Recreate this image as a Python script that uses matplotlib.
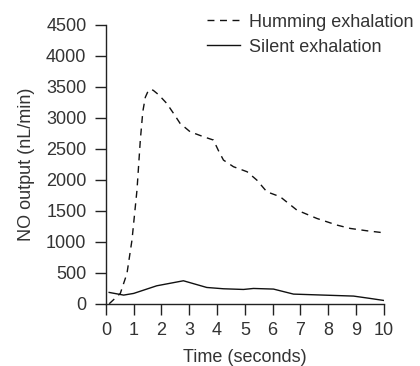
import matplotlib
matplotlib.use("Agg")
import matplotlib.pyplot as plt

plt.rcParams['font.family'] = ['Liberation Sans', 'DejaVu Sans']

hum_t = [0.12, 0.52, 0.76, 0.94, 1.12, 1.24, 1.33, 1.42, 1.52, 1.62, 1.71, 1.9, 2.19, 2.45, 2.67,
         3.03, 3.51, 3.87, 4.05, 4.23, 4.59, 5.08, 5.43, 5.79, 6.27, 6.87, 7.59, 8.31, 8.79,
         9.39, 9.99]
hum_v = [0, 167, 489, 1027, 1833, 2640, 3100, 3330, 3430, 3460, 3440, 3370, 3231, 3060, 2909,
         2774, 2694, 2640, 2470, 2317, 2210, 2129, 1995, 1806, 1726, 1511, 1376, 1269, 1215,
         1177, 1145]
sil_t = [0.12, 0.64, 1.0, 1.83, 2.79, 3.63, 4.23, 4.95, 5.31, 6.03, 6.75, 7.83, 8.91, 9.51, 9.99]
sil_v = [183, 140, 167, 290, 371, 263, 242, 231, 247, 237, 156, 140, 124, 86, 54]

xticks = list(range(0, 11))
yticks = list(range(0, 4501, 500))

fig = plt.figure(figsize=(4.2, 3.66), dpi=100)
ax = fig.add_axes([0.252, 0.170, 0.662, 0.7625])
ax.plot(hum_t, hum_v, color='#111111', lw=1.0, linestyle=(0, (5, 4)), label='Humming exhalation')
ax.plot(sil_t, sil_v, color='#111111', lw=1.0, linestyle='-', label='Silent exhalation')
ax.set_xlim(0, 10)
ax.set_ylim(0, 4500)
ax.set_xticks(xticks)
ax.set_yticks(yticks)
for s in ['top', 'right']:
    ax.spines[s].set_visible(False)
for s in ['left', 'bottom']:
    ax.spines[s].set_linewidth(1.0)
    ax.spines[s].set_color('#222222')
ax.tick_params(direction='out', length=8, width=1.0, colors='#222222', labelsize=13,
               labelcolor='#333333')
ax.tick_params(axis='y', pad=6)
ax.tick_params(axis='x', pad=5)
ax.set_xlabel('Time (seconds)', fontsize=13, color='#333333', labelpad=7)
ax.set_ylabel('NO output (nL/min)', fontsize=13, color='#333333', labelpad=8)
for sp in ax.spines.values():
    sp.set_clip_on(False)
leg = ax.legend(loc='upper left', bbox_to_anchor=(0.493, 0.963), bbox_transform=fig.transFigure,
                frameon=False, fontsize=13, handlelength=1.8, handletextpad=0.5, labelspacing=0.45,
                borderpad=0, borderaxespad=0, labelcolor='#333333')
fig.savefig('out.png', dpi=100)
